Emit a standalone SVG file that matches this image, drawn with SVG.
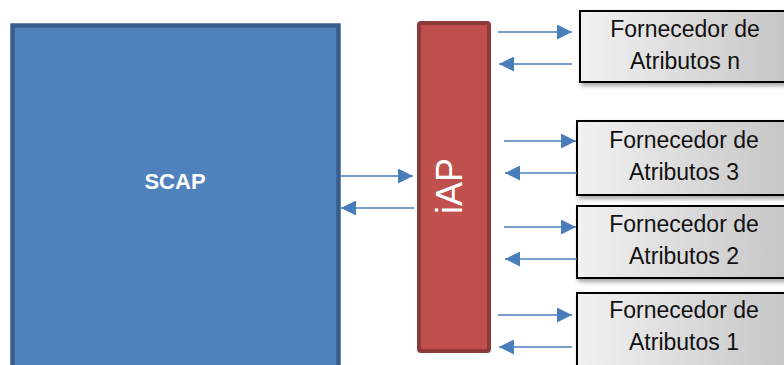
<svg xmlns="http://www.w3.org/2000/svg" width="784" height="365" viewBox="0 0 784 365">
  <defs>
    <linearGradient id="gray" x1="0" y1="0" x2="1" y2="0">
      <stop offset="0" stop-color="#f2f2f2"/>
      <stop offset="1" stop-color="#c4c4c4"/>
    </linearGradient>
    <filter id="shadow" x="-10%" y="-20%" width="130%" height="150%">
      <feDropShadow dx="2" dy="3" stdDeviation="2" flood-color="#000" flood-opacity="0.35"/>
    </filter>
    <marker id="arrow" viewBox="0 0 15 15" markerWidth="15" markerHeight="15" refX="15" refY="7.5" orient="auto" markerUnits="userSpaceOnUse">
      <path d="M0,0 L15,7.5 L0,15 z" fill="#4a7ebb"/>
    </marker>
    <style>
      .conn { stroke: #4a7ebb; stroke-width: 1.6; fill: none; marker-end: url(#arrow); }
      .prov rect { fill: url(#gray); stroke: #000; stroke-width: 2; filter: url(#shadow); }
      .prov text { font-family: "Liberation Sans", Arial, sans-serif; font-size: 23px; fill: #111; text-anchor: middle; }
    </style>
  </defs>

  <g id="scap">
    <rect x="12.5" y="25.5" width="326" height="360" fill="#4f81bd" stroke="#385d8a" stroke-width="4.5"/>
    <text x="175" y="189" font-family="Liberation Sans, Arial, sans-serif" font-weight="bold" font-size="22" fill="#fff" text-anchor="middle">SCAP</text>
  </g>

  <g id="iap">
    <rect x="419" y="23" width="70" height="328" rx="2" fill="#c0504d" stroke="#8c3a38" stroke-width="4"/>
    <text transform="translate(462,186) rotate(-90)" font-family="Liberation Sans, Arial, sans-serif" font-size="36" fill="#fff" text-anchor="middle">iAP</text>
  </g>

  <g id="prov-n" class="prov">
    <rect x="580" y="11" width="215" height="71"/>
    <text x="685" y="37">Fornecedor de</text>
    <text x="685" y="69">Atributos n</text>
  </g>
  <g id="prov-3" class="prov">
    <rect x="577" y="121" width="218" height="74"/>
    <text x="684" y="148">Fornecedor de</text>
    <text x="684" y="180">Atributos 3</text>
  </g>
  <g id="prov-2" class="prov">
    <rect x="577" y="206" width="218" height="72"/>
    <text x="684" y="232">Fornecedor de</text>
    <text x="684" y="264">Atributos 2</text>
  </g>
  <g id="prov-1" class="prov">
    <rect x="577" y="293" width="218" height="90"/>
    <text x="684" y="318">Fornecedor de</text>
    <text x="684" y="350">Atributos 1</text>
  </g>

  <g id="connectors">
    <line class="conn" x1="341" y1="176" x2="413" y2="176"/>
    <line class="conn" x1="414" y1="208" x2="341" y2="208"/>
    <line class="conn" x1="498" y1="32" x2="572" y2="32"/>
    <line class="conn" x1="572" y1="64" x2="499" y2="64"/>
    <line class="conn" x1="504" y1="141" x2="576" y2="141"/>
    <line class="conn" x1="577" y1="173" x2="505" y2="173"/>
    <line class="conn" x1="504" y1="227" x2="576" y2="227"/>
    <line class="conn" x1="577" y1="259" x2="505" y2="259"/>
    <line class="conn" x1="498" y1="315" x2="572" y2="315"/>
    <line class="conn" x1="572" y1="347" x2="499" y2="347"/>
  </g>
</svg>
